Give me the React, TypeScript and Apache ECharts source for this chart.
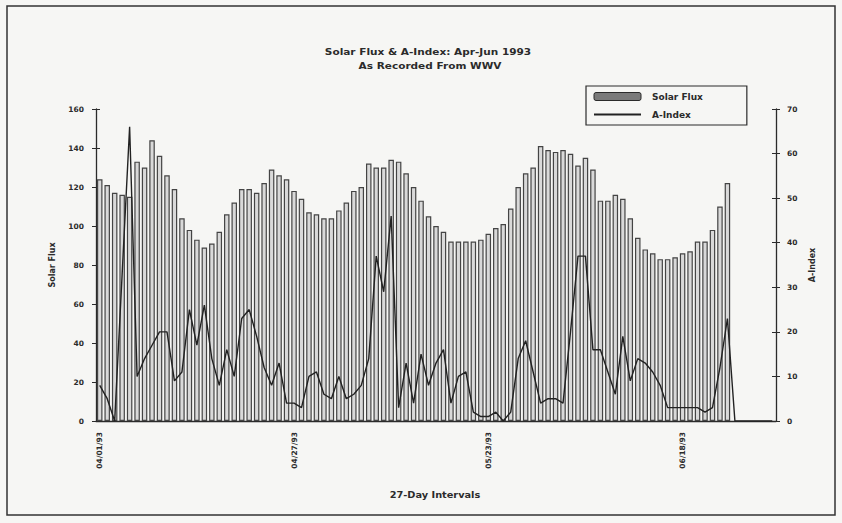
import React, { useEffect, useRef } from "react";
import * as echarts from "echarts";

// 91 daily categories: 04/01/93 .. 06/30/93
const dayCount = 91;
const categories: string[] = Array.from({ length: dayCount }, (_, i) => {
  const d = new Date(1993, 3, 1 + i);
  const mm = String(d.getMonth() + 1).padStart(2, "0");
  const dd = String(d.getDate()).padStart(2, "0");
  return `${mm}/${dd}/93`;
});

// Solar flux (left axis), 04/01 .. 06/24
const solarFlux: number[] = [
  124, 121, 117, 116, 115, 133, 130, 144, 136, 126,
  119, 104, 98, 93, 89, 91, 97, 106, 112, 119,
  119, 117, 122, 129, 126, 124, 118, 114, 107, 106,
  104, 104, 108, 112, 118, 120, 132, 130, 130, 134,
  133, 127, 120, 113, 105, 100, 97, 92, 92, 92,
  92, 93, 96, 99, 101, 109, 120, 127, 130, 141,
  139, 138, 139, 137, 131, 135, 129, 113, 113, 116,
  114, 104, 94, 88, 86, 83, 83, 84, 86, 87,
  92, 92, 98, 110, 122,
];

// A-Index (right axis), 04/01 .. 06/30
const aIndex: number[] = [
  8, 5, 0, 33, 66, 10, 14, 17, 20, 20,
  9, 11, 25, 17, 26, 14, 8, 16, 10, 23,
  25, 19, 12, 8, 13, 4, 4, 3, 10, 11,
  6, 5, 10, 5, 6, 8, 14, 37, 29, 46,
  3, 13, 4, 15, 8, 13, 16, 4, 10, 11,
  2, 1, 1, 2, 0, 2, 14, 18, 11, 4,
  5, 5, 4, 20, 37, 37, 16, 16, 11, 6,
  19, 9, 14, 13, 11, 8, 3, 3, 3, 3,
  3, 2, 3, 12, 23, 0, 0, 0, 0, 0,
  0,
];

const leftTicks = { min: 0, max: 160, interval: 20 };
const rightTicks = { min: 0, max: 70, interval: 10 };

const titleLines = ["Solar Flux & A-Index: Apr-Jun 1993", "As Recorded From WWV"];
const xAxisTitle = "27-Day Intervals";

const FONT = "'DejaVu Sans', Verdana, sans-serif";
const INK = "#2b2b2b";

export default function App() {
  const ref = useRef<HTMLDivElement>(null);

  useEffect(() => {
    if (!ref.current) return;
    const chart = echarts.init(ref.current, null, { renderer: "svg" });
    const labelStyle = { color: INK, fontFamily: FONT, fontSize: 7.5, fontWeight: "bold" as const };
    const option: any = {
      animation: false,
      backgroundColor: "#f6f6f4",
      textStyle: { fontFamily: FONT, color: INK },
      legend: {
        orient: "vertical",
        left: 586,
        top: 86,
        padding: [6, 44, 6, 7],
        itemGap: 9,
        itemWidth: 47,
        itemHeight: 8,
        borderColor: INK,
        borderWidth: 1.2,
        textStyle: { fontFamily: FONT, fontSize: 9, fontWeight: "bold", color: INK, padding: [0, 0, 0, 6] },
        data: [
          { name: "Solar Flux", itemStyle: { color: "#7a7a7a", borderColor: INK, borderWidth: 1 } },
          { name: "A-Index", itemStyle: { opacity: 0 } },
        ],
      },
      grid: { left: 96, right: 66, top: 109, bottom: 102 },
      xAxis: [
        {
          type: "category",
          data: categories,
          axisLine: { lineStyle: { color: INK, width: 1.3 } },
          axisTick: { interval: 25, length: 4, lineStyle: { color: INK } },
          axisLabel: { ...labelStyle, interval: 25, rotate: 90, margin: 11 },
          splitLine: { show: false },
        },
        {
          type: "category",
          data: categories,
          position: "bottom",
          axisLine: { show: false },
          axisTick: { interval: 25, inside: true, length: 3, lineStyle: { color: INK } },
          axisLabel: { show: false },
          splitLine: { show: false },
        },
      ],
      yAxis: [
        {
          type: "value",
          position: "left",
          ...leftTicks,
          name: "Solar Flux",
          nameLocation: "middle",
          nameGap: 40,
          nameTextStyle: { fontFamily: FONT, fontSize: 8, fontWeight: "bold", color: INK },
          axisLine: { show: true, lineStyle: { color: INK, width: 1.3 } },
          axisTick: { show: true, length: 4, lineStyle: { color: INK } },
          axisLabel: { ...labelStyle, margin: 12 },
          splitLine: { show: false },
        },
        {
          type: "value",
          position: "right",
          ...rightTicks,
          name: "A-Index",
          nameLocation: "middle",
          nameGap: 31,
          nameTextStyle: { fontFamily: FONT, fontSize: 8, fontWeight: "bold", color: INK },
          axisLine: { show: true, lineStyle: { color: INK, width: 1.3 } },
          axisTick: { show: true, length: 4, lineStyle: { color: INK } },
          axisLabel: { ...labelStyle, margin: 11 },
          splitLine: { show: false },
        },
        {
          type: "value",
          position: "left",
          ...leftTicks,
          axisLine: { show: false },
          axisTick: { show: true, inside: true, length: 4, lineStyle: { color: INK } },
          axisLabel: { show: false },
          splitLine: { show: false },
        },
        {
          type: "value",
          position: "right",
          ...rightTicks,
          axisLine: { show: false },
          axisTick: { show: true, inside: true, length: 4, lineStyle: { color: INK } },
          axisLabel: { show: false },
          splitLine: { show: false },
        },
      ],
      series: [
        {
          name: "Solar Flux",
          type: "bar",
          yAxisIndex: 0,
          data: solarFlux,
          barWidth: 5.5,
          itemStyle: { color: "#d9d9d9", borderColor: "#444", borderWidth: 1.2 },
        },
        {
          name: "A-Index",
          type: "line",
          yAxisIndex: 1,
          data: aIndex,
          symbol: "none",
          lineStyle: { color: "#222", width: 1.4 },
          itemStyle: { color: "#222" },
          z: 5,
        },
      ],
      graphic: [
        {
          type: "rect",
          shape: { x: 7, y: 6, width: 828, height: 509 },
          style: { fill: "none", stroke: "#333", lineWidth: 1.5 },
          silent: true,
        },
        {
          type: "text",
          x: 428,
          y: 52,
          scaleX: 1.24,
          style: {
            text: titleLines[0],
            fontFamily: FONT,
            fontSize: 8.5,
            fontWeight: "bold",
            fill: INK,
            textAlign: "center",
            textVerticalAlign: "middle",
          },
          silent: true,
        },
        {
          type: "text",
          x: 430,
          y: 66,
          scaleX: 1.24,
          style: {
            text: titleLines[1],
            fontFamily: FONT,
            fontSize: 8.5,
            fontWeight: "bold",
            fill: INK,
            textAlign: "center",
            textVerticalAlign: "middle",
          },
          silent: true,
        },
        {
          type: "text",
          x: 435,
          y: 495,
          scaleX: 1.15,
          style: {
            text: xAxisTitle,
            fontFamily: FONT,
            fontSize: 8.5,
            fontWeight: "bold",
            fill: INK,
            textAlign: "center",
            textVerticalAlign: "middle",
          },
          silent: true,
        },
      ],
    };
    chart.setOption(option);
    return () => chart.dispose();
  }, []);

  return (
    <div
      ref={ref}
      style={{ position: "absolute", left: 0, top: 0, width: 842, height: 523 }}
    />
  );
}
